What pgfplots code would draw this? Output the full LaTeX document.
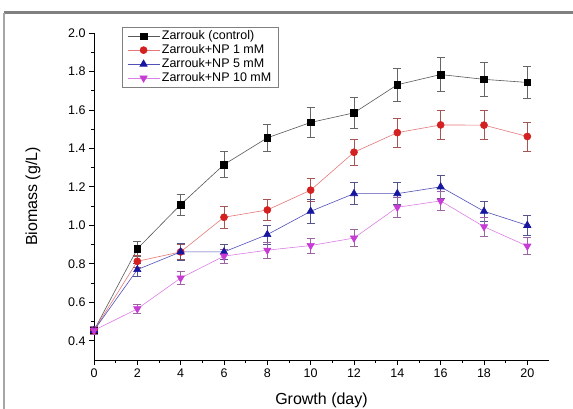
\documentclass[border=0pt]{standalone}
\usepackage{fontspec}
\setmainfont{Liberation Sans}
\usepackage{pgfplots}
\pgfplotsset{compat=1.18}

\definecolor{sred}{RGB}{212,32,32}
\definecolor{sblue}{RGB}{22,22,160}
\definecolor{smag}{RGB}{200,60,214}

\begin{document}
\begin{tikzpicture}
% outer frame of the figure
\path[use as bounding box] (-94pt,-49pt) rectangle (479pt,360pt);
\fill[white] (-94pt,-49pt) rectangle (479pt,360pt);
\draw[gray, line width=3pt] (-90pt,347pt) -- (479pt,347pt);
\draw[gray!70, line width=1.5pt] (-90pt,347pt) -- (-90pt,-49pt);

\begin{axis}[
    at={(0pt,0pt)}, anchor=origin,
    scale only axis,
    width=455pt, height=327pt,
    xmin=0, xmax=21,
    ymin=0.3, ymax=2.0,
    axis lines=left,
    axis line style={-, line width=0.8pt},
    xtick={0,2,...,20},
    ytick={0.4,0.6,...,2.01},
    minor x tick num=1,
    minor y tick num=1,
    tick align=outside,
    major tick length=5pt,
    minor tick length=3pt,
    tick style={line width=0.8pt, black},
    ticklabel style={font=\fontsize{12.5}{14}\selectfont},
    /pgf/number format/assume math mode=true,
    yticklabel style={/pgf/number format/fixed, /pgf/number format/fixed zerofill, /pgf/number format/precision=1},
    xlabel={Growth (day)},
    ylabel={Biomass (g/L)},
    label style={font=\fontsize{16}{18}\selectfont},
    xlabel style={at={(axis description cs:0.5,-0.1223)}, anchor=center},
    ylabel style={at={(axis description cs:-0.134,0.5)}, anchor=center},
    clip=false,
    legend style={
        at={(axis description cs:0.0615,1.018)}, anchor=north west,
        draw=gray, line width=0.6pt,
        font=\fontsize{12.5}{14}\selectfont,
        row sep=-0.6pt, inner xsep=5pt, inner ysep=1.5pt
    },
    legend cell align=left,
    legend image code/.code={
        \draw[mark repeat=2, mark phase=2] plot coordinates {(0pt,0pt) (16pt,0pt) (32pt,0pt)};
    },
    error bars/y dir=both,
    error bars/y explicit,
]

\addplot[color=black!65, line width=0.6pt,
    mark=square*, mark size=3.3pt, mark options={solid, fill=black, draw=black},
    error bars/error bar style={color=black!60, line width=0.7pt},
    error bars/error mark options={rotate=90, mark size=4pt, color=black!60, line width=0.7pt}]
table[x=x, y=y, y error=e] {
x y e
0 0.454 0.02
2 0.878 0.04
4 1.108 0.055
6 1.316 0.068
8 1.455 0.072
10 1.535 0.077
12 1.585 0.080
14 1.731 0.087
16 1.784 0.088
18 1.759 0.087
20 1.743 0.085
};
\addlegendentry{Zarrouk (control)}

\addplot[color=sred!60, line width=0.6pt,
    mark=*, mark size=3.5pt, mark options={solid, fill=sred, draw=sred},
    error bars/error bar style={color=sred!45!gray, line width=0.7pt},
    error bars/error mark options={rotate=90, mark size=4pt, color=sred!45!gray, line width=0.7pt}]
table[x=x, y=y, y error=e] {
x y e
0 0.454 0.02
2 0.813 0.03
4 0.862 0.04
6 1.042 0.055
8 1.080 0.055
10 1.183 0.060
12 1.380 0.069
14 1.482 0.075
16 1.522 0.077
18 1.521 0.076
20 1.462 0.076
};
\addlegendentry{Zarrouk+NP 1 mM}

\addplot[color=sblue!75, line width=0.6pt,
    mark=triangle*, mark size=4.2pt, mark options={solid, fill=sblue, draw=sblue},
    error bars/error bar style={color=sblue!40!gray, line width=0.7pt},
    error bars/error mark options={rotate=90, mark size=4pt, color=sblue!40!gray, line width=0.7pt}]
table[x=x, y=y, y error=e] {
x y e
0 0.454 0.02
2 0.770 0.035
4 0.862 0.043
6 0.862 0.040
8 0.952 0.050
10 1.073 0.060
12 1.165 0.058
14 1.165 0.058
16 1.200 0.062
18 1.073 0.052
20 1.000 0.053
};
\addlegendentry{Zarrouk+NP 5 mM}

\addplot[color=smag!65, line width=0.6pt,
    mark=triangle*, mark size=4.2pt, mark options={solid, rotate=180, fill=smag, draw=smag},
    error bars/error bar style={color=smag!40!gray, line width=0.7pt},
    error bars/error mark options={rotate=90, mark size=4pt, color=smag!40!gray, line width=0.7pt}]
table[x=x, y=y, y error=e] {
x y e
0 0.454 0.02
2 0.566 0.025
4 0.726 0.035
6 0.840 0.035
8 0.871 0.040
10 0.895 0.040
12 0.934 0.045
14 1.094 0.050
16 1.127 0.050
18 0.993 0.050
20 0.892 0.045
};
\addlegendentry{Zarrouk+NP 10 mM}

\end{axis}
\end{tikzpicture}
\end{document}
